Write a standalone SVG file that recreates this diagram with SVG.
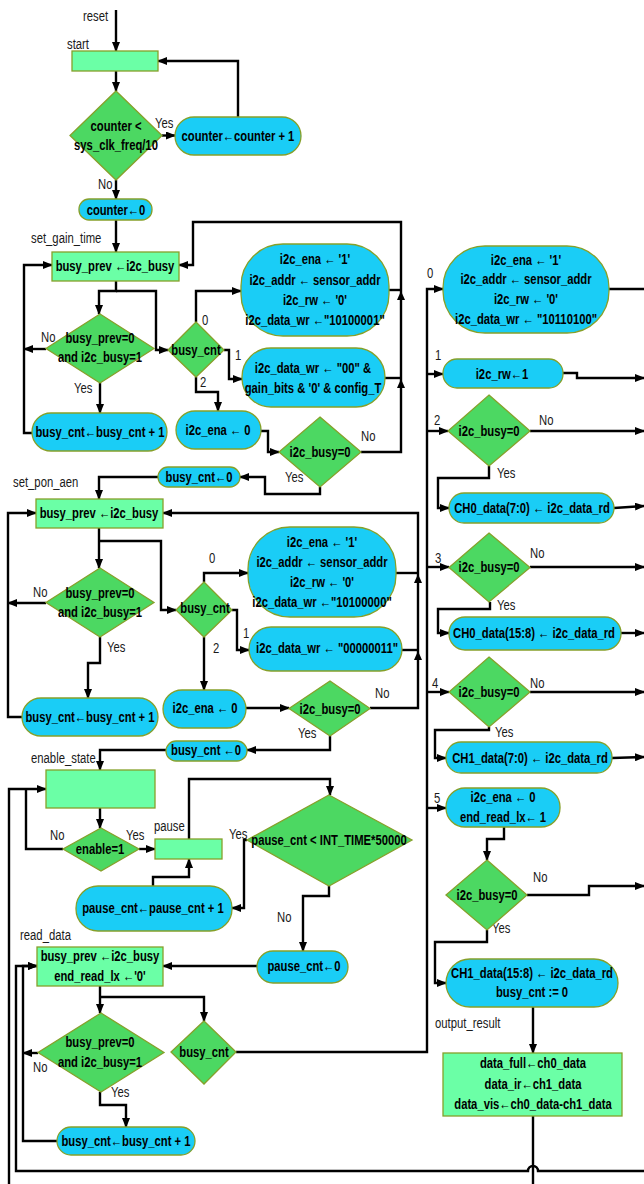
<svg xmlns="http://www.w3.org/2000/svg" width="644" height="1184" viewBox="0 0 644 1184">
<style>
.b{fill:#1ACDF6;stroke:#86A02A;stroke-width:1.3}
.g{fill:#6BFFA6;stroke:#86A02A;stroke-width:1.3}
.d{fill:#4CD862;stroke:#86A02A;stroke-width:1.3}
.t{font-family:"Liberation Sans Narrow","Arial Narrow","Liberation Sans",sans-serif;font-size:15px;font-weight:bold;text-anchor:middle;fill:#000}
.l{font-family:"Liberation Sans Narrow","Arial Narrow","Liberation Sans",sans-serif;font-size:14.5px;fill:#1a1a1a}
.c{fill:none;stroke:#000;stroke-width:2.4}
.a{marker-end:url(#ah)}
.h{fill:#000}
</style>
<defs>
<marker id="ah" markerUnits="userSpaceOnUse" markerWidth="10" markerHeight="8" refX="9" refY="4" orient="auto"><path d="M0,0 L10,4 L0,8 z" fill="#000"/></marker>
</defs>
<g id="connectors">
<path class="c a" d="M116,10 V51"/>
<path class="c a" d="M116,71 V91"/>
<path class="c a" d="M162,135.5 H175"/>
<path class="c a" d="M238,117 V61 H158"/>
<path class="c a" d="M116,180 V199"/>
<path class="c a" d="M116,220 V252"/>
<path class="c a" d="M116,281 V291 H99 V314"/>
<path class="c a" d="M116,291 H156 V350 H168"/>
<path class="c a" d="M46,349 H24"/>
<path class="c a" d="M32,433 H24 V265 H52"/>
<path class="c a" d="M100,383 V413"/>
<path class="c a" d="M196,322 V291 H241"/>
<path class="c a" d="M224,350 H229 V379 H242"/>
<path class="c a" d="M196,377 V392 H218 V411"/>
<path class="c a" d="M261,431 H268 V452 H279"/>
<path class="c a" d="M361,452 H401 V222 H193 V265 H179"/>
<path class="c" d="M389,290 H401"/>
<path class="c" d="M385,378 H401"/>
<polygon class="h" points="401,291 397,300 405,300"/>
<polygon class="h" points="401,379 397,388 405,388"/>
<path class="c a" d="M320,487 V494 H265 V477 H240"/>
<path class="c a" d="M158,477 H99 V499"/>
<path class="c a" d="M99,528 V568"/>
<path class="c a" d="M99,541 H161 V610 H176"/>
<path class="c a" d="M46,603 H8"/>
<path class="c a" d="M22,717 H8 V513 H36"/>
<path class="c a" d="M100,637 V663 H88 V698"/>
<path class="c a" d="M204,582 V573 H248"/>
<path class="c a" d="M232,610 H237 V650 H249"/>
<path class="c a" d="M204,637 V690"/>
<path class="c a" d="M246,708 H289"/>
<path class="c a" d="M370,708 H418 V513 H163"/>
<path class="c" d="M396,573 H418"/>
<path class="c" d="M402,650 H418"/>
<polygon class="h" points="418,574 414,583 422,583"/>
<polygon class="h" points="418,651 414,660 422,660"/>
<path class="c a" d="M330,736 V750 H247"/>
<path class="c a" d="M166,750 H100 V770"/>
<path class="c a" d="M9,1184 V789 H46"/>
<path class="c" d="M63,849 H26 V789"/>
<path class="c a" d="M100,808 V828"/>
<path class="c a" d="M139,849 H155"/>
<path class="c a" d="M189,839 V779 H330 V795"/>
<path class="c a" d="M247,840 H244 V908 H232"/>
<path class="c a" d="M153,886 V877 H189 V859"/>
<path class="c a" d="M329,886 V896 H303 V951"/>
<path class="c a" d="M257,966 H163"/>
<path class="c a" d="M100,986 V1013"/>
<path class="c a" d="M100,997 H204 V1021"/>
<path class="c a" d="M38,1053 H23"/>
<path class="c a" d="M57,1141 H23 V966 H37"/>
<path class="c a" d="M100,1092 V1105 H126 V1127"/>
<path class="c a" d="M236,1052 H427 V289 H443"/>
<path class="c a" d="M427,374 H443"/>
<path class="c a" d="M427,431 H448"/>
<path class="c a" d="M427,567 H449"/>
<path class="c a" d="M427,692 H449"/>
<path class="c a" d="M427,808 H446"/>
<path class="c" d="M609,289 H644"/>
<path class="c a" d="M563,373 H577 V378 H644"/>
<path class="c a" d="M530,431 H644"/>
<path class="c a" d="M489,466 V478 H438 V508 H449"/>
<path class="c a" d="M614,508 L644,506"/>
<path class="c a" d="M530,567 H644"/>
<path class="c a" d="M490,602 V609 H438 V633 H449"/>
<path class="c a" d="M621,633 H644"/>
<path class="c a" d="M530,692 H644"/>
<path class="c a" d="M489,727 V730 H435 V758 H446"/>
<path class="c a" d="M612,758 L644,757"/>
<path class="c a" d="M504,827 V839 H487 V860"/>
<path class="c a" d="M527,895 H589 V886 H644"/>
<path class="c a" d="M487,930 V942 H435 V983 H446"/>
<path class="c a" d="M533,1007 V1053"/>
<path class="c" d="M533,1116 V1184"/>
<path class="c a" d="M644,1171 H538 A5,5 0 0 0 528,1171 H16 V966 H37"/>
</g>
<g id="labels">
<text class="l" transform="translate(83,21) scale(.78,1)">reset</text>
<text class="l" transform="translate(67,49) scale(.78,1)">start</text>
<text class="l" transform="translate(155,128) scale(.78,1)">Yes</text>
<text class="l" transform="translate(98,189) scale(.78,1)">No</text>
<text class="l" transform="translate(31,243) scale(.78,1)">set_gain_time</text>
<text class="l" transform="translate(41,342) scale(.78,1)">No</text>
<text class="l" transform="translate(74,393) scale(.78,1)">Yes</text>
<text class="l" transform="translate(202,325) scale(.78,1)">0</text>
<text class="l" transform="translate(235,360) scale(.78,1)">1</text>
<text class="l" transform="translate(200,387) scale(.78,1)">2</text>
<text class="l" transform="translate(361,441) scale(.78,1)">No</text>
<text class="l" transform="translate(285,482) scale(.78,1)">Yes</text>
<text class="l" transform="translate(13,487) scale(.78,1)">set_pon_aen</text>
<text class="l" transform="translate(33,597) scale(.78,1)">No</text>
<text class="l" transform="translate(107,652) scale(.78,1)">Yes</text>
<text class="l" transform="translate(209,563) scale(.78,1)">0</text>
<text class="l" transform="translate(243,638) scale(.78,1)">1</text>
<text class="l" transform="translate(213,653) scale(.78,1)">2</text>
<text class="l" transform="translate(375,698) scale(.78,1)">No</text>
<text class="l" transform="translate(298,738) scale(.78,1)">Yes</text>
<text class="l" transform="translate(31,763) scale(.78,1)">enable_state</text>
<text class="l" transform="translate(50,840) scale(.78,1)">No</text>
<text class="l" transform="translate(126,840) scale(.78,1)">Yes</text>
<text class="l" transform="translate(154,831) scale(.78,1)">pause</text>
<text class="l" transform="translate(229,839) scale(.78,1)">Yes</text>
<text class="l" transform="translate(277,922) scale(.78,1)">No</text>
<text class="l" transform="translate(20,940) scale(.78,1)">read_data</text>
<text class="l" transform="translate(33,1072) scale(.78,1)">No</text>
<text class="l" transform="translate(111,1097) scale(.78,1)">Yes</text>
<text class="l" transform="translate(427,278) scale(.78,1)">0</text>
<text class="l" transform="translate(435,360) scale(.78,1)">1</text>
<text class="l" transform="translate(434,425) scale(.78,1)">2</text>
<text class="l" transform="translate(539,425) scale(.78,1)">No</text>
<text class="l" transform="translate(497,478) scale(.78,1)">Yes</text>
<text class="l" transform="translate(435,563) scale(.78,1)">3</text>
<text class="l" transform="translate(530,558) scale(.78,1)">No</text>
<text class="l" transform="translate(497,610) scale(.78,1)">Yes</text>
<text class="l" transform="translate(432,688) scale(.78,1)">4</text>
<text class="l" transform="translate(530,688) scale(.78,1)">No</text>
<text class="l" transform="translate(495,737) scale(.78,1)">Yes</text>
<text class="l" transform="translate(434,803) scale(.78,1)">5</text>
<text class="l" transform="translate(533,882) scale(.78,1)">No</text>
<text class="l" transform="translate(492,933) scale(.78,1)">Yes</text>
<text class="l" transform="translate(435,1028) scale(.78,1)">output_result</text>
</g>
<g id="n_start"><rect class="g" x="72" y="51" width="86" height="20"/></g>
<g id="n_counter_cmp"><polygon class="d" points="116,91 162,135.5 116,180 70,135.5"/><text class="t" transform="translate(116,131) scale(.75,1)">counter &lt;</text><text class="t" transform="translate(116,150) scale(.75,1)">sys_clk_freq/10</text></g>
<g id="n_counter_inc"><rect class="b" x="175" y="117" width="126" height="38" rx="19"/><text class="t" transform="translate(238,141) scale(.75,1)">counter←counter + 1</text></g>
<g id="n_counter_zero"><rect class="b" x="79" y="199" width="73" height="21" rx="10"/><text class="t" transform="translate(116,215) scale(.75,1)">counter←0</text></g>
<g id="n_gain_prev"><rect class="g" x="52" y="252" width="127" height="29"/><text class="t" transform="translate(115,271) scale(.75,1)">busy_prev ←i2c_busy</text></g>
<g id="n_gain_cond"><polygon class="d" points="100,314 154,348.5 100,383 46,348.5"/><text class="t" transform="translate(100,343) scale(.75,1)">busy_prev=0</text><text class="t" transform="translate(100,362) scale(.75,1)">and i2c_busy=1</text></g>
<g id="n_gain_inc"><rect class="b" x="32" y="413" width="135" height="38" rx="19"/><text class="t" transform="translate(100,437) scale(.75,1)">busy_cnt←busy_cnt + 1</text></g>
<g id="n_gain_bc"><polygon class="d" points="196,322 224,350 196,377 168,350"/><text class="t" transform="translate(196,355) scale(.75,1)">busy_cnt</text></g>
<g id="n_gain_w0"><rect class="b" x="241" y="244" width="148" height="92" rx="42"/><text class="t" transform="translate(315,264) scale(.75,1)">i2c_ena ← '1'</text><text class="t" transform="translate(315,285) scale(.75,1)">i2c_addr ← sensor_addr</text><text class="t" transform="translate(315,305) scale(.75,1)">i2c_rw ← '0'</text><text class="t" transform="translate(315,325) scale(.75,1)">i2c_data_wr ←"10100001"</text></g>
<g id="n_gain_w1"><rect class="b" x="242" y="348" width="143" height="59" rx="29"/><text class="t" transform="translate(313,373) scale(.75,1)">i2c_data_wr ← "00" &amp;</text><text class="t" transform="translate(313,393) scale(.75,1)">gain_bits &amp; '0' &amp; config_T</text></g>
<g id="n_gain_ena0"><rect class="b" x="176" y="411" width="85" height="38" rx="19"/><text class="t" transform="translate(218,435) scale(.75,1)">i2c_ena ← 0</text></g>
<g id="n_gain_busy0"><polygon class="d" points="320,417 361,452 320,487 279,452"/><text class="t" transform="translate(320,457) scale(.75,1)">i2c_busy=0</text></g>
<g id="n_gain_reset"><rect class="b" x="158" y="467" width="82" height="20" rx="10"/><text class="t" transform="translate(199,482) scale(.75,1)">busy_cnt←0</text></g>
<g id="n_pon_prev"><rect class="g" x="36" y="499" width="127" height="29"/><text class="t" transform="translate(99,518) scale(.75,1)">busy_prev ←i2c_busy</text></g>
<g id="n_pon_cond"><polygon class="d" points="100,568 154,602.5 100,637 46,602.5"/><text class="t" transform="translate(100,598) scale(.75,1)">busy_prev=0</text><text class="t" transform="translate(100,617) scale(.75,1)">and i2c_busy=1</text></g>
<g id="n_pon_inc"><rect class="b" x="22" y="698" width="136" height="38" rx="19"/><text class="t" transform="translate(90,722) scale(.75,1)">busy_cnt←busy_cnt + 1</text></g>
<g id="n_pon_bc"><polygon class="d" points="204,582 232,610 204,637 176,610"/><text class="t" transform="translate(205,613) scale(.75,1)">busy_cnt</text></g>
<g id="n_pon_w0"><rect class="b" x="248" y="527" width="148" height="90" rx="42"/><text class="t" transform="translate(322,547) scale(.75,1)">i2c_ena ← '1'</text><text class="t" transform="translate(322,567) scale(.75,1)">i2c_addr ← sensor_addr</text><text class="t" transform="translate(322,587) scale(.75,1)">i2c_rw ← '0'</text><text class="t" transform="translate(322,607) scale(.75,1)">i2c_data_wr ←"10100000"</text></g>
<g id="n_pon_w1"><rect class="b" x="249" y="627" width="153" height="44" rx="22"/><text class="t" transform="translate(327,653) scale(.75,1)">i2c_data_wr ← "00000011"</text></g>
<g id="n_pon_ena0"><rect class="b" x="163" y="690" width="83" height="38" rx="19"/><text class="t" transform="translate(205,713) scale(.75,1)">i2c_ena ← 0</text></g>
<g id="n_pon_busy0"><polygon class="d" points="330,681 370,708.5 330,736 289,708.5"/><text class="t" transform="translate(330,714) scale(.75,1)">i2c_busy=0</text></g>
<g id="n_pon_reset"><rect class="b" x="166" y="741" width="81" height="20" rx="10"/><text class="t" transform="translate(206,755) scale(.75,1)">busy_cnt ←0</text></g>
<g id="n_enable_state"><rect class="g" x="46" y="770" width="109" height="38"/></g>
<g id="n_enable_cond"><polygon class="d" points="101,828 139,849 101,871 63,849"/><text class="t" transform="translate(100,854) scale(.75,1)">enable=1</text></g>
<g id="n_pause"><rect class="g" x="155" y="839" width="67" height="20"/></g>
<g id="n_pause_cmp"><polygon class="d" points="329,795 412,840 329,886 247,840"/><text class="t" transform="translate(329,845) scale(.75,1)">pause_cnt &lt; INT_TIME*50000</text></g>
<g id="n_pause_inc"><rect class="b" x="76" y="886" width="156" height="45" rx="22"/><text class="t" transform="translate(153,913) scale(.75,1)">pause_cnt←pause_cnt + 1</text></g>
<g id="n_pause_zero"><rect class="b" x="257" y="951" width="91" height="32" rx="16"/><text class="t" transform="translate(304,971) scale(.75,1)">pause_cnt←0</text></g>
<g id="n_read_prev"><rect class="g" x="37" y="947" width="126" height="39"/><text class="t" transform="translate(100,961) scale(.75,1)">busy_prev ←i2c_busy</text><text class="t" transform="translate(100,981) scale(.75,1)">end_read_lx ←'0'</text></g>
<g id="n_read_cond"><polygon class="d" points="101,1013 164,1052.5 101,1092 38,1052.5"/><text class="t" transform="translate(100,1047) scale(.75,1)">busy_prev=0</text><text class="t" transform="translate(100,1067) scale(.75,1)">and i2c_busy=1</text></g>
<g id="n_read_inc"><rect class="b" x="57" y="1127" width="138" height="28" rx="14"/><text class="t" transform="translate(126,1146) scale(.75,1)">busy_cnt←busy_cnt + 1</text></g>
<g id="n_read_bc"><polygon class="d" points="204,1021 236,1052 204,1084 171,1052"/><text class="t" transform="translate(204,1057) scale(.75,1)">busy_cnt</text></g>
<g id="n_read_w0"><rect class="b" x="443" y="246" width="166" height="87" rx="42"/><text class="t" transform="translate(526,265) scale(.75,1)">i2c_ena ← '1'</text><text class="t" transform="translate(526,284) scale(.75,1)">i2c_addr ← sensor_addr</text><text class="t" transform="translate(526,304) scale(.75,1)">i2c_rw ← '0'</text><text class="t" transform="translate(526,324) scale(.75,1)">i2c_data_wr ← "10110100"</text></g>
<g id="n_read_rw"><rect class="b" x="443" y="359" width="120" height="29" rx="14"/><text class="t" transform="translate(502,379) scale(.75,1)">i2c_rw←1</text></g>
<g id="n_read_b2"><polygon class="d" points="489,395 530,431 489,466 448,431"/><text class="t" transform="translate(489,436) scale(.75,1)">i2c_busy=0</text></g>
<g id="n_ch0_lo"><rect class="b" x="449" y="493" width="165" height="30" rx="15"/><text class="t" transform="translate(532,513) scale(.75,1)">CH0_data(7:0) ← i2c_data_rd</text></g>
<g id="n_read_b3"><polygon class="d" points="489,533 530,567.5 489,602 449,567.5"/><text class="t" transform="translate(489,572) scale(.75,1)">i2c_busy=0</text></g>
<g id="n_ch0_hi"><rect class="b" x="449" y="617" width="172" height="33" rx="16"/><text class="t" transform="translate(534,638) scale(.75,1)">CH0_data(15:8) ← i2c_data_rd</text></g>
<g id="n_read_b4"><polygon class="d" points="489,657 530,692 489,727 449,692"/><text class="t" transform="translate(489,697) scale(.75,1)">i2c_busy=0</text></g>
<g id="n_ch1_lo"><rect class="b" x="446" y="742" width="166" height="31" rx="15"/><text class="t" transform="translate(530,763) scale(.75,1)">CH1_data(7:0) ← i2c_data_rd</text></g>
<g id="n_read_end"><rect class="b" x="446" y="788" width="114" height="39" rx="19"/><text class="t" transform="translate(503,802) scale(.75,1)">i2c_ena ← 0</text><text class="t" transform="translate(503,822) scale(.75,1)">end_read_lx← 1</text></g>
<g id="n_read_b5"><polygon class="d" points="487,860 527,895 487,930 446,895"/><text class="t" transform="translate(487,900) scale(.75,1)">i2c_busy=0</text></g>
<g id="n_ch1_hi"><rect class="b" x="446" y="959" width="172" height="48" rx="24"/><text class="t" transform="translate(532,978) scale(.75,1)">CH1_data(15:8) ← i2c_data_rd</text><text class="t" transform="translate(532,997) scale(.75,1)">busy_cnt := 0</text></g>
<g id="n_output"><rect class="g" x="443" y="1053" width="179" height="63"/><text class="t" transform="translate(533,1068) scale(.75,1)">data_full←ch0_data</text><text class="t" transform="translate(533,1089) scale(.75,1)">data_ir←ch1_data</text><text class="t" transform="translate(533,1109) scale(.75,1)">data_vis←ch0_data-ch1_data</text></g>
</svg>
